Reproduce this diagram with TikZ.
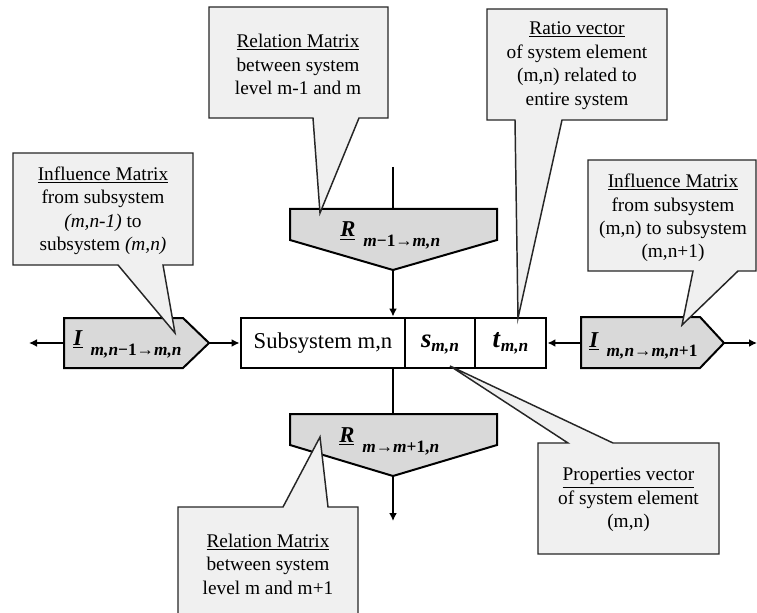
\documentclass[tikz,border=0pt]{standalone}
\usepackage{fontspec}
\setmainfont{Liberation Serif}
\usetikzlibrary{arrows.meta}
\newcommand\bi[1]{\textbf{\textit{#1}}}
\newcommand\subf{\fontsize{13}{13}\selectfont}
\tikzset{
  callout/.style={draw=black!85, fill=black!6, line width=1.1pt, line join=miter},
  ctext/.style={align=center, font=\fontsize{14.5}{17.6}\selectfont, inner sep=0pt},
  pent/.style={draw=black, fill=black!15, line width=1.5pt, line join=miter},
  cellbox/.style={draw=black, fill=white, line width=2.2pt, minimum height=37.5pt, inner sep=0pt},
  conn/.style={draw=black, line width=1.5pt},
  arr/.style={conn, -{Latex[length=6pt,width=6pt]}},
  lab/.style={anchor=base west, inner sep=0pt}
}
\begin{document}
\begin{tikzpicture}[x=0.75pt,y=-0.75pt]
\useasboundingbox (0,0) rectangle (757,613);
\clip (0,0) rectangle (757,613);
\fill[white] (0,0) rectangle (757,613);

% main box
\node[cellbox, minimum width=123pt, font=\fontsize{17}{17}\selectfont] (sub) at (323,343) {Subsystem m,n};
\node[cellbox, minimum width=52.5pt] (scell) at (440,343) {};
\node[cellbox, minimum width=53.25pt] (tcell) at (510.5,343) {};
\node[inner sep=0pt] (slab) at (440,345) {\fontsize{20}{20}\selectfont\bi{s}\raisebox{-3pt}{\subf\bi{m,n}}};
\node[inner sep=0pt] (tlab) at (510.5,343) {\fontsize{20}{20}\selectfont\bi{t}\raisebox{-3pt}{\subf\bi{m,n}}};

% pentagons
\draw[pent] (64,318) -- (183,318) -- (209,343) -- (183,368) -- (64,368) -- cycle;
\coordinate (IlW) at (64,343); \coordinate (IlE) at (209,343);
\draw[pent] (581,317) -- (700,317) -- (724,343) -- (700,368) -- (581,368) -- cycle;
\coordinate (IrW) at (581,343); \coordinate (IrE) at (724,343);
\draw[pent] (290,209) -- (497,209) -- (497,240) -- (393,270) -- (290,240) -- cycle;
\coordinate (RtN) at (393,209); \coordinate (RtS) at (393,270);
\draw[pent] (290,414) -- (497,414) -- (497,445) -- (393,476) -- (290,445) -- cycle;
\coordinate (RbN) at (393,414); \coordinate (RbS) at (393,476);

% pentagon labels
\node[lab] (Il) at (73,345) {\fontsize{17}{17}\selectfont\underline{\bi{I}}\hspace{6pt}\raisebox{-8pt}{\subf\bi{m,n}\textbf{−1→}\bi{m,n}}};
\node[lab] (Ir) at (589,347) {\fontsize{17}{17}\selectfont\underline{\bi{I}}\hspace{6pt}\raisebox{-7pt}{\subf\bi{m,n}\textbf{→}\bi{m,n}\textbf{+1}}};
\node[lab] (Rt) at (340,237) {\fontsize{17}{17}\selectfont\underline{\bi{R}}\hspace{6pt}\raisebox{-7.5pt}{\subf\bi{m}\textbf{−1→}\bi{m,n}}};
\node[lab] (Rb) at (339,442) {\fontsize{17}{17}\selectfont\underline{\bi{R}}\hspace{6pt}\raisebox{-7.5pt}{\subf\bi{m}\textbf{→}\bi{m}\textbf{+1,}\bi{n}}};

% connectors
\coordinate (topend) at (393,167);
\coordinate (botend) at (393,521);
\coordinate (leftend) at (29,343);
\coordinate (rightend) at (757,343);
\draw[conn] (topend) -- (RtN);
\draw[arr] (RtS) -- (RtS |- sub.north);
\draw[conn] (RtS |- sub.south) -- (RbN);
\draw[arr] (RbS) -- (botend);
\draw[arr] (IlW) -- (leftend);
\draw[arr] (IlE) -- (sub.west);
\draw[arr] (IrW) -- (tcell.east);
\draw[arr] (IrE) -- (rightend);

% callouts
\draw[callout] (13,153) -- (193,153) -- (193,265) -- (163,265) -- (175,333) -- (118,265) -- (13,265) -- cycle;
\node[ctext] (c1) at (103,211) {\underline{Influence Matrix}\\from subsystem\\\textit{(m,n-1)} to\\subsystem \textit{(m,n)}};

\draw[callout] (209,7) -- (388,7) -- (388,118) -- (359,118) -- (320,213) -- (313,118) -- (209,118) -- cycle;
\node[ctext] (c2) at (298,64.5) {\underline{Relation Matrix}\\between system\\level m-1 and m};

\draw[callout] (487,9) -- (667,9) -- (667,120) -- (562,120) -- (518,318) -- (515,120) -- (487,120) -- cycle;
\node[ctext] (c3) at (577,65.5) {\underline{Ratio vector}\\of system element\\(m,n) related to\\entire system};

\draw[callout] (588,160) -- (756,160) -- (756,271) -- (738,271) -- (682,325) -- (693,271) -- (588,271) -- cycle;
\node[ctext] (c4) at (673,218) {\underline{Influence Matrix}\\from subsystem\\(m,n) to subsystem\\(m,n+1)};

\draw[callout] (178,507) -- (283,507) -- (320,437) -- (328,507) -- (358,507) -- (358,625) -- (178,625) -- cycle;
\node[ctext] (c5) at (268,564) {\underline{Relation Matrix}\\between system\\level m and m+1};

\draw[callout] (538,443) -- (568,443) -- (450,366) -- (613,443) -- (719,443) -- (719,554) -- (538,554) -- cycle;
\node[ctext] (c6) at (628.5,500) {\underline{Properties vector}\\of system element\\(m,n)};
\end{tikzpicture}
\end{document}
